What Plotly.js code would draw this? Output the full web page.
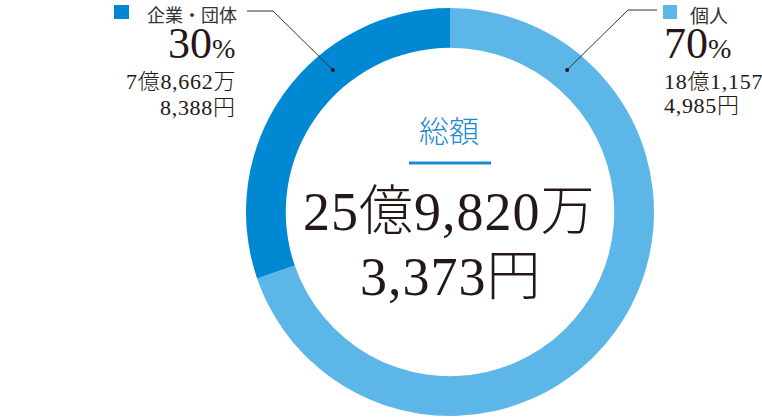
<!DOCTYPE html>
<html>
<head>
<meta charset="utf-8">
<script src="https://cdn.plot.ly/plotly-3.0.1.min.js"></script>
<style>
html,body{margin:0;padding:0;background:#fff;}
#chart{width:762px;height:417px;}
</style>
</head>
<body>
<div id="chart"></div>
<script>
// ---- data ----
const categories = ['個人', '企業・団体'];
const amounts = [1811574985, 786628388];
const sliceColors = ['#5cb6e7', '#0089d2'];
const totalLabel = '総額';

// ---- layout constants ----
const W = 762, H = 417;
const CX = 450, CY = 212, R = 204, HOLE = 0.805;
const SERIF = "'Liberation Serif', 'Noto Sans CJK JP', serif";
const SANS = "'Noto Sans CJK JP', 'Noto Sans', sans-serif";
const INK = '#231815';
const BLUE = '#1b8bd0';

function px(x, y) { return [x / W, 1 - y / H]; }
function comma(n) { return n.toString().replace(/\B(?=(\d{3})+(?!\d))/g, ','); }
function yenLines(v) {
  const oku = Math.floor(v / 1e8);
  const man = Math.floor((v % 1e8) / 1e4);
  const yen = v % 1e4;
  return [oku + '億' + comma(man) + '万', comma(yen) + '円'];
}
function spaced(t, ls) { return "<span style='letter-spacing:" + ls + "px'>" + t + "</span>"; }

const total = amounts.reduce((a, b) => a + b, 0);
const pct = amounts.map(v => Math.round(v / total * 100));

const trace = {
  type: 'pie',
  labels: categories,
  values: amounts,
  hole: HOLE,
  sort: false,
  direction: 'clockwise',
  rotation: 0,
  textinfo: 'none',
  hoverinfo: 'none',
  showlegend: false,
  marker: { colors: sliceColors, line: { width: 0 } },
  domain: {
    x: [(CX - R) / W, (CX + R) / W],
    y: [1 - (CY + R) / H, 1 - (CY - R) / H]
  }
};

const annotations = [];
const shapes = [];
function ann(x, y, text, size, fam, color, xanchor, weight, yanchor) {
  const p = px(x, y);
  annotations.push({
    xref: 'paper', yref: 'paper', x: p[0], y: p[1], text: text,
    showarrow: false, xanchor: xanchor, yanchor: yanchor || 'middle',
    font: { size: size, family: fam, color: color, weight: weight || 400 }, borderpad: 0
  });
}
function line(x0, y0, x1, y1, color, w) {
  const a = px(x0, y0), b = px(x1, y1);
  shapes.push({ type: 'line', xref: 'paper', yref: 'paper', x0: a[0], y0: a[1], x1: b[0], y1: b[1],
    line: { color: color, width: w } });
}
function rect(x0, y0, x1, y1, color) {
  const a = px(x0, y0), b = px(x1, y1);
  shapes.push({ type: 'rect', xref: 'paper', yref: 'paper', x0: a[0], y0: a[1], x1: b[0], y1: b[1],
    fillcolor: color, line: { width: 0 } });
}
function dot(x, y, r, color) {
  const a = px(x - r, y - r), b = px(x + r, y + r);
  shapes.push({ type: 'circle', xref: 'paper', yref: 'paper', x0: a[0], y0: a[1], x1: b[0], y1: b[1],
    fillcolor: color, line: { width: 0 } });
}

// center block
ann(449, 129, totalLabel, 30, SANS, BLUE, 'center', 300);
line(409, 163, 491, 163, BLUE, 3);
const tl = yenLines(total);
ann(449, 212, spaced(tl[0], 1), 54, SERIF, INK, 'center', 300);
ann(451, 277, spaced(tl[1], 1), 54, SERIF, INK, 'center', 300);

// left label (企業・団体)
const L = yenLines(amounts[1]);
rect(114, 5, 129, 19, sliceColors[1]);
ann(238, 0, categories[1], 18, SANS, '#333333', 'right', 400, 'top');
ann(236, 43, pct[1] + "<span style='font-size:28px'>%</span>", 44, SERIF, INK, 'right', 300);
ann(237, 81, spaced(L[0], 0.7), 22, SERIF, INK, 'right', 300);
ann(237, 108, spaced(L[1], 0.7), 22, SERIF, INK, 'right', 300);

// right label (個人)
const Rt = yenLines(amounts[0]);
rect(663, 5, 677, 19, sliceColors[0]);
ann(689, 0, categories[0], 19, SANS, '#333333', 'left', 400, 'top');
ann(663, 43, pct[0] + "<span style='font-size:28px'>%</span>", 44, SERIF, INK, 'left', 300);
ann(663, 81, spaced(Rt[0], 0.7), 22, SERIF, INK, 'left', 300);
ann(663, 106, spaced(Rt[1], 0.7), 22, SERIF, INK, 'left', 300);

// leader lines
const rMid = R * (1 + HOLE) / 2;
const ang = 39.5 * Math.PI / 180;
const lx = CX - rMid * Math.sin(ang), ly = CY - rMid * Math.cos(ang);
const rx = CX + rMid * Math.sin(ang), ry = ly;
line(247, 11, 273, 11, '#333333', 1);
line(273, 11, lx, ly, '#333333', 1);
dot(lx, ly, 2, '#231815');
line(657, 10, 628, 10, '#333333', 1);
line(628, 10, rx, ry, '#333333', 1);
dot(rx, ry, 2, '#231815');

const layout = {
  width: W, height: H,
  margin: { l: 0, r: 0, t: 0, b: 0, pad: 0 },
  paper_bgcolor: '#ffffff', plot_bgcolor: '#ffffff',
  annotations: annotations, shapes: shapes,
  showlegend: false
};

Plotly.newPlot('chart', [trace], layout, { staticPlot: true, displayModeBar: false });
</script>
</body>
</html>
